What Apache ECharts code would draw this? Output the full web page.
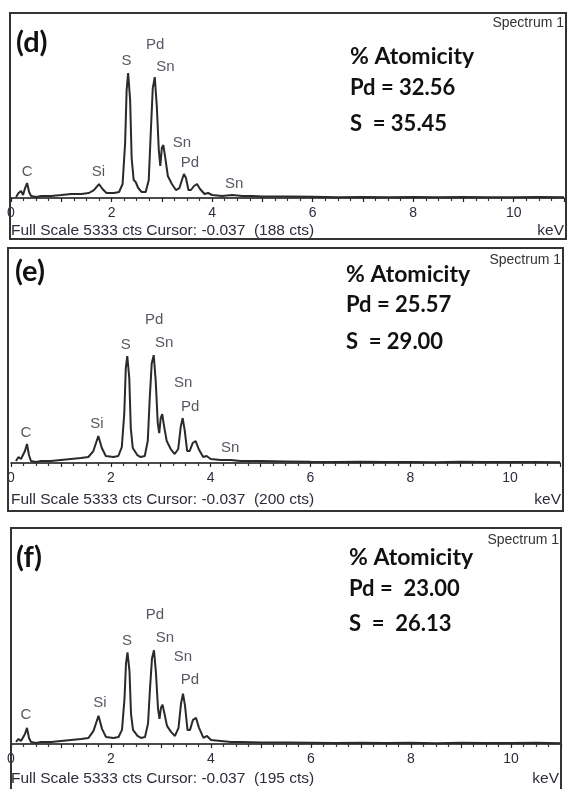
<!DOCTYPE html>
<html>
<head>
<meta charset="utf-8">
<script src="https://cdn.jsdelivr.net/npm/echarts@6/dist/echarts.min.js"></script>
<style>
  html, body { margin: 0; padding: 0; background: #fff; }
  #edsChart { width: 567px; height: 789px; }
</style>
</head>
<body>
<div id="edsChart"></div>
<script>
// energy grid (keV) shared by the three spectra
var energy = [0.10, 0.15, 0.20, 0.24, 0.28, 0.32, 0.36, 0.40, 0.50, 0.60, 0.80, 1.00, 1.20, 1.40, 1.55, 1.65,
    1.75, 1.82, 1.90, 2.05, 2.15, 2.22, 2.27, 2.30, 2.33, 2.37, 2.40, 2.44, 2.48, 2.53, 2.60, 2.68,
    2.74, 2.78, 2.82, 2.86, 2.90, 2.94, 2.97, 3.00, 3.03, 3.07, 3.12, 3.20, 3.28, 3.35, 3.40, 3.44,
    3.48, 3.53, 3.58, 3.64, 3.70, 3.76, 3.85, 3.92, 4.00, 4.20, 4.40, 4.60, 4.80, 5.00, 5.50, 6.00,
    6.50, 7.00, 7.50, 8.00, 8.50, 9.00, 9.50, 10.00, 10.50, 11.00];

// counts
var countsD = [29, 144, 202, 86, 288, 432, 173, 58, 29, 58, 58, 86, 115, 115, 144, 230,
    403, 259, 144, 144, 173, 403, 1584, 3110, 3600, 2822, 1152, 518, 461, 288, 173, 173,
    518, 1872, 3168, 3485, 2650, 1382, 922, 1440, 1526, 1152, 634, 403, 230, 288, 518, 691,
    576, 230, 230, 346, 403, 259, 115, 144, 86, 58, 86, 58, 58, 43, 43, 35,
    25, 30, 22, 28, 20, 30, 25, 22, 28, 20];
var countsE = [50, 150, 100, 75, 300, 475, 200, 50, 25, 50, 50, 75, 100, 125, 150, 300,
    675, 375, 175, 150, 175, 400, 1250, 2375, 2675, 2125, 875, 375, 350, 200, 150, 175,
    550, 1625, 2500, 2700, 2050, 1000, 750, 1125, 1225, 900, 550, 350, 225, 350, 900, 1125,
    825, 300, 300, 500, 550, 350, 150, 175, 100, 75, 75, 50, 50, 50, 40, 30,
    25, 30, 22, 28, 20, 30, 25, 22, 28, 20];
var countsF = [50, 125, 75, 50, 250, 400, 150, 50, 25, 50, 50, 75, 100, 125, 150, 325,
    700, 375, 175, 150, 175, 350, 1125, 2000, 2275, 1800, 750, 350, 350, 200, 150, 175,
    500, 1375, 2125, 2325, 1750, 875, 625, 900, 975, 750, 450, 300, 200, 400, 1000, 1250,
    950, 350, 350, 600, 650, 400, 150, 200, 100, 75, 50, 50, 45, 40, 35, 30,
    25, 30, 22, 28, 20, 30, 25, 22, 28, 20];

// element labels: name, keV, counts
var peakNamesD = ['C', 'Si', 'S', 'Pd', 'Sn', 'Sn', 'Pd', 'Sn'];
var peakKevD = [0.32, 1.74, 2.30, 2.87, 3.07, 3.40, 3.56, 4.44];
var peakCtsD = [749, 749, 3946, 4406, 3773, 1584, 1008, 403];
var peakNamesE = ['C', 'Si', 'S', 'Pd', 'Sn', 'Sn', 'Pd', 'Sn'];
var peakKevE = [0.30, 1.72, 2.30, 2.87, 3.07, 3.45, 3.59, 4.39];
var peakCtsE = [750, 975, 2950, 3575, 3000, 2000, 1400, 375];
var peakNamesF = ['C', 'Si', 'S', 'Pd', 'Sn', 'Sn', 'Pd'];
var peakKevF = [0.30, 1.78, 2.32, 2.88, 3.08, 3.44, 3.58];
var peakCtsF = [720, 1017, 2554, 3200, 2630, 2160, 1590];

var panelTags = ['(d)', '(e)', '(f)'];
var pdValues = ['Pd = 32.56', 'Pd = 25.57', 'Pd =  23.00'];
var sValues = ['S  = 35.45', 'S  = 29.00', 'S  =  26.13'];
var cursorCounts = ['(188 cts)', '(200 cts)', '(195 cts)'];
var fullScale = 5333;

// layout of each panel (pixels)
var layout = [
    { grid: { left: 11, top: 13, width: 555, height: 185 }, frame: [10, 13, 556, 226], right: 564,
      tag: [16, 43], atom: [350, 57, 88, 124], spec: 23, foot: 231 },
    { grid: { left: 11, top: 250, width: 549, height: 213 }, frame: [8, 248, 555, 263], right: 561,
      tag: [15, 272], atom: [346, 275, 305, 342], spec: 260, foot: 500 },
    { grid: { left: 11, top: 529, width: 550, height: 215 }, frame: [11, 528, 550, 280], right: 559,
      tag: [16, 558], atom: [349, 558, 589, 624], spec: 540, foot: 779 }
];

var textColor = '#2e2c3a';
var sansFont = '"Liberation Sans", Arial, sans-serif';
var boldFont = 'Lato, "Open Sans", sans-serif';

function pairData(xs, ys) {
    var d = [];
    for (var i = 0; i < xs.length; i++) {
        d.push([xs[i], ys[i]]);
    }
    return d;
}

// each label item carries its own text style so the size is sure to stick
function labelData(names, xs, ys) {
    var d = [];
    for (var i = 0; i < names.length; i++) {
        d.push({
            name: names[i], value: [xs[i], ys[i]],
            label: { show: true, fontSize: 15, fontFamily: sansFont, color: textColor }
        });
    }
    return d;
}

function txt(text, x, y, font, align, color) {
    return {
        type: 'text', z: 50, silent: true,
        style: {
            text: text, x: x, y: y, font: font,
            textAlign: align || 'left', align: align || 'left',
            textVerticalAlign: 'middle', verticalAlign: 'middle',
            fill: color || '#111'
        }
    };
}

var spectra = [countsD, countsE, countsF];
var labels = [
    labelData(peakNamesD, peakKevD, peakCtsD),
    labelData(peakNamesE, peakKevE, peakCtsE),
    labelData(peakNamesF, peakKevF, peakCtsF)
];

var grids = [], xAxes = [], yAxes = [], series = [], graphics = [];
for (var p = 0; p < 3; p++) {
    var L = layout[p];
    grids.push(L.grid);
    xAxes.push({
        type: 'value', gridIndex: p, min: 0, max: 11, interval: 1,
        axisLine: { show: true, onZero: false, lineStyle: { color: '#111', width: 1.5 } },
        axisTick: { show: true, length: 4, lineStyle: { color: '#222', width: 1.2 } },
        minorTick: { show: true, splitNumber: 4, length: 3, lineStyle: { color: '#333', width: 1.2 } },
        splitLine: { show: false },
        axisLabel: {
            margin: 8, fontSize: 14, fontFamily: sansFont, color: textColor,
            formatter: function (v) { return v % 2 === 0 ? String(v) : ''; }
        }
    });
    yAxes.push({ type: 'value', gridIndex: p, min: 0, max: fullScale, show: false });
    series.push({
        type: 'line', xAxisIndex: p, yAxisIndex: p, showSymbol: false, silent: true,
        data: pairData(energy, spectra[p]),
        lineStyle: { color: '#2a2a2a', width: 2 }
    });
    series.push({
        type: 'scatter', xAxisIndex: p, yAxisIndex: p, symbolSize: 0, silent: true,
        data: labels[p],
        label: {
            show: true, position: 'inside', formatter: '{b}',
            fontSize: 15, fontFamily: sansFont, color: textColor
        }
    });

    // panel frame
    graphics.push({
        type: 'rect', z: 40, silent: true,
        shape: { x: L.frame[0], y: L.frame[1], width: L.frame[2], height: L.frame[3] },
        style: { fill: 'none', stroke: '#333', lineWidth: 2 }
    });
    graphics.push(txt(panelTags[p], L.tag[0], L.tag[1], 'bold 29px ' + boldFont, 'left', '#111'));
    graphics.push(txt('% Atomicity', L.atom[0], L.atom[1], 'bold 23px ' + boldFont, 'left', '#111'));
    graphics.push(txt(pdValues[p], L.atom[0], L.atom[2], 'bold 22px ' + boldFont, 'left', '#111'));
    graphics.push(txt(sValues[p], L.atom[0], L.atom[3], 'bold 22px ' + boldFont, 'left', '#111'));
    graphics.push(txt('Spectrum 1', L.right, L.spec, '14px ' + sansFont, 'right', '#333'));
    graphics.push(txt('Full Scale ' + fullScale + ' cts Cursor: -0.037  ' + cursorCounts[p],
        L.grid.left, L.foot, '15.5px ' + sansFont, 'left', textColor));
    graphics.push(txt('keV', L.right, L.foot, '15.5px ' + sansFont, 'right', textColor));
}

var myChart = echarts.init(document.getElementById('edsChart'));
myChart.setOption({
    backgroundColor: '#fff',
    animation: false,
    grid: grids,
    xAxis: xAxes,
    yAxis: yAxes,
    series: series,
    graphic: graphics
});
</script>
</body>
</html>
